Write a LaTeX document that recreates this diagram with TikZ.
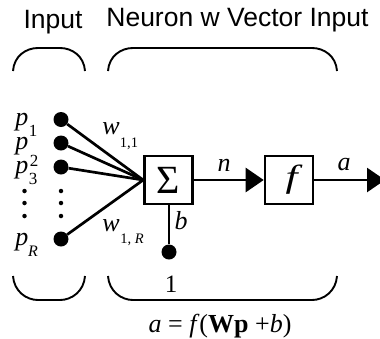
\documentclass[tikz,border=0pt]{standalone}
\usepackage{fontspec}
\usepackage{graphicx}
\setmainfont{Liberation Serif}
\newfontfamily\hdfont{Liberation Sans}
\usetikzlibrary{arrows.meta}
\tikzset{
  x=1pt,y=-1pt,
  wire/.style={line width=2.7pt,black},
  bigdot/.style={circle,fill=black,inner sep=0pt,minimum size=15pt},
  smalldot/.style={circle,fill=black,inner sep=0pt,minimum size=4.5pt},
  block/.style={draw=black,line width=2.6pt,fill=white,minimum width=48pt,minimum height=48pt,inner sep=0pt},
  head/.style={font=\hdfont\fontsize{26.5}{30}\selectfont,inner sep=0pt},
  lab/.style={font=\itshape\fontsize{26}{30}\selectfont,inner sep=0pt},
  sub/.style={font=\fontsize{14.5}{16}\selectfont,inner sep=0pt},
  psub/.style={font=\fontsize{17}{19}\selectfont,inner sep=0pt},
  brace/.style={line width=1.9pt,black},
  flow/.style={wire,-{Triangle[length=18pt,width=24pt]}}
}
\begin{document}
\begin{tikzpicture}
\useasboundingbox (0,0) rectangle (380,338);
\node[head] (tinput) at (53,22) {Input};
\node[head] (tneuron) at (237.5,20) {Neuron w Vector Input};
% brackets
\draw[brace] (13,71) .. controls (14,56) and (26,48) .. (38,48) -- (60,48) .. controls (72,48) and (84,56) .. (85,71);
\draw[brace] (108,71) .. controls (109,56) and (121,48) .. (133,48) -- (312,48) .. controls (324,48) and (336,56) .. (337,71);
\draw[brace] (13,276) .. controls (14,291) and (26,300) .. (38,300) -- (60,300) .. controls (72,300) and (84,291) .. (85,276);
\draw[brace] (108,276) .. controls (109,291) and (121,300) .. (133,300) -- (312,300) .. controls (324,300) and (336,291) .. (337,276);
% blocks
\node[block] (sum) at (168.5,180) {\fontsize{40}{44}\selectfont Σ};
\node[block] (fbox) at (289,180) {\hspace{5pt}\scalebox{1.35}[1]{\itshape\fontsize{32}{36}\selectfont f}};
\node[bigdot] (p1) at (61,119.5) {};
\node[bigdot] (p2) at (61,143) {};
\node[bigdot] (p3) at (61,167) {};
\node[bigdot] (pR) at (61,239) {};
\node[bigdot] (one) at (169,252) {};
\foreach \n/\y in {a/191,b/203,c/216}{
  \node[smalldot] (l\n) at (24.5,\y) {};
  \node[smalldot] (r\n) at (61,\y) {};
}
\coordinate (end) at (385,180);
\draw[wire] (p1) -- (sum.west);
\draw[wire] (p2) -- (sum.west);
\draw[wire] (p3) -- (sum.west);
\draw[wire] (pR) -- (sum.west);
\draw[wire] (sum.south -| one) -- (one);
\draw[flow] (sum.east) -- (fbox.west);
\draw[flow] (fbox.east) -- (end);
% labels
\node[lab] (tp1) at (22,122) {p};
\node[lab] (tp2) at (22,146) {p};
\node[lab] (tp3) at (22,170) {p};
\node[lab] (tpR) at (22,242) {p};
\node[psub] (s1) at (33,131) {1};
\node[psub] (s2) at (34,161) {2};
\node[psub] (s3) at (33,179) {3};
\node[psub,font=\itshape\fontsize{16}{18}\selectfont] (sR) at (33,251) {R};
\node[lab] (w1) at (111,129) {w};
\node[sub] (w1s) at (129,144) {1,1};
\node[lab] (wR) at (111,226) {w};
\node[sub] (wRs) at (132,240) {1, \textit{R}};
\node[lab] (tb) at (181,221) {b};
\node[lab] (tn) at (224,165) {n};
\node[lab] (ta) at (344,165) {a};
\node[font=\fontsize{25}{28}\selectfont,inner sep=0pt] (tone) at (171,284) {1};
\node[font=\fontsize{26}{30}\selectfont,inner sep=0pt] (eq) at (220,326) {\textit{a} = \textit{f}(\textbf{Wp} +\textit{b})};
\end{tikzpicture}
\end{document}
